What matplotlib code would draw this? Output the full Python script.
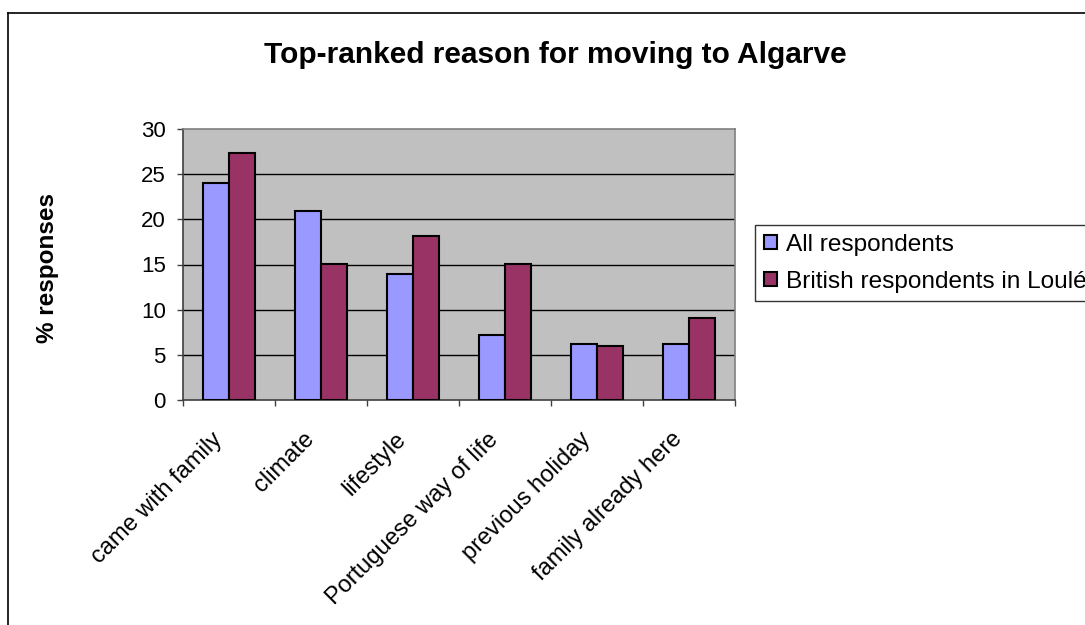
import matplotlib
matplotlib.use('Agg')
import matplotlib.pyplot as plt
import matplotlib.transforms as mtrans
import numpy as np
from matplotlib.lines import Line2D

categories=['came with family','climate','lifestyle','Portuguese way of life','previous holiday','family already here']
all_resp=[24.0,20.9,14.0,7.2,6.2,6.2]
british_loule=[27.3,15.1,18.2,15.1,6.0,9.1]
series_names=['All respondents','British respondents in Loulé']

plt.rcParams['font.family']=['Liberation Sans','DejaVu Sans']

fig=plt.figure(figsize=(10.85,6.25),dpi=100)
ax=fig.add_axes([183/1085,1-400/625,(735-183)/1085,(400-129)/625])
ax.set_facecolor('#C0C0C0')

x=np.arange(len(categories))
w=0.283
ax.bar(x-w/2,all_resp,w,color='#9999FF',edgecolor='black',linewidth=1.5,label=series_names[0],zorder=3)
ax.bar(x+w/2,british_loule,w,color='#993366',edgecolor='black',linewidth=1.5,label=series_names[1],zorder=3)

ax.set_xlim(-0.5,len(categories)-0.5)
ax.set_ylim(0,30)
ax.set_yticks(range(0,31,5))
for yv in range(5,30,5):
    ax.axhline(yv,color='black',linewidth=1,zorder=1)

#category boundary ticks on x axis, labels at centers
ax.set_xticks(np.arange(-0.5,len(categories),1))
ax.set_xticklabels([])
ax.set_xticks(x,minor=True)
ax.set_xticklabels(categories,minor=True,rotation=45,ha='right',va='center',rotation_mode='anchor',fontsize=17)
ax.tick_params(axis='x',which='minor',length=0,pad=26)
ax.tick_params(axis='x',which='major',length=4.5,width=1,color='#404040',direction='out')
ax.tick_params(axis='y',length=4.5,width=1,color='#404040',labelsize=16,pad=8)
shift=mtrans.ScaledTranslation(-10/100,0,fig.dpi_scale_trans)
for lab in ax.get_xticklabels(minor=True):
    lab.set_transform(lab.get_transform()+shift)

for s in ['top','right']:
    ax.spines[s].set_color('#808080')
for s in ['left','bottom']:
    ax.spines[s].set_color('#404040')
for s in ax.spines.values():
    s.set_linewidth(1.2)

fig.text(48/1085,1-268/625,'% responses',rotation=90,fontsize=17.5,fontweight='bold',ha='center',va='center')

fig.text(555/1085,1-55/625,'Top-ranked reason for moving to Algarve',fontsize=21.5,fontweight='bold',ha='center',va='center')

fig.legend(loc='upper left',bbox_to_anchor=(755/1085,1-225/625),fontsize=17.6,frameon=True,fancybox=False,
           edgecolor='black',handlelength=0.55,handleheight=0.55,handletextpad=0.35,borderaxespad=0,
           labelspacing=0.62,borderpad=0.35)

#outer chart frame (cut by the picture edge)
fig.add_artist(Line2D([8/1085,8/1085],[0,1-13/625],transform=fig.transFigure,color='black',linewidth=1.2))
fig.add_artist(Line2D([8/1085,1],[1-13/625,1-13/625],transform=fig.transFigure,color='black',linewidth=1.2))

fig.savefig('out.png',dpi=100)
